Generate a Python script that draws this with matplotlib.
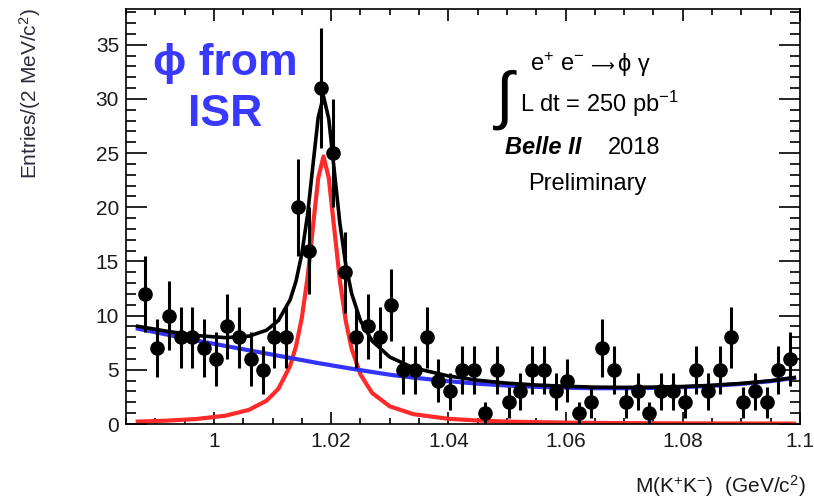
import numpy as np
import matplotlib.pyplot as plt
from matplotlib.ticker import MultipleLocator

plt.rcParams['font.family'] = ['Liberation Sans', 'DejaVu Sans']
plt.rcParams['mathtext.fontset'] = 'custom'
plt.rcParams['mathtext.rm'] = 'Liberation Sans'
plt.rcParams['mathtext.it'] = 'Liberation Sans:italic'
plt.rcParams['mathtext.bf'] = 'Liberation Sans:bold'

# histogram M(K+K-), 2 MeV bins
first_centre = 0.9883
bin_width = 0.002
counts = [12, 7, 10, 8, 8, 7, 6, 9, 8, 6,
          5, 8, 8, 20, 16, 31, 25, 14, 8, 9,
          8, 11, 5, 5, 8, 4, 3, 5, 5, 1,
          5, 2, 3, 5, 5, 3, 4, 1, 2, 7,
          5, 2, 3, 1, 3, 3, 2, 5, 3, 5,
          8, 2, 3, 2, 5, 6]

# fit curves
curve_x = [0.987, 0.992, 0.997, 1.002, 1.006, 1.009, 1.011, 1.013, 1.014, 1.015,
           1.016, 1.017, 1.0178, 1.0187, 1.0196, 1.0205, 1.0215, 1.0225, 1.0235, 1.025,
           1.027, 1.030, 1.034, 1.040, 1.045, 1.050, 1.055, 1.060, 1.065, 1.070,
           1.075, 1.080, 1.085, 1.090, 1.095, 1.099]
signal = [0.22, 0.31, 0.46, 0.77, 1.31, 2.16, 3.25, 5.36, 7.16, 9.8,
          13.6, 18.7, 22.7, 24.7, 22.7, 18.2, 13.2, 9.5, 6.94, 4.57,
          2.86, 1.63, 0.91, 0.48, 0.32, 0.22, 0.17, 0.13, 0.10, 0.08,
          0.07, 0.06, 0.05, 0.045, 0.04, 0.035]
background = [8.8, 8.25, 7.7, 7.2, 6.8, 6.5, 6.3, 6.1, 6.0, 5.9,
              5.8, 5.7, 5.62, 5.54, 5.46, 5.37, 5.28, 5.19, 5.1, 4.97,
              4.8, 4.55, 4.28, 3.95, 3.72, 3.55, 3.43, 3.35, 3.3, 3.3,
              3.33, 3.4, 3.52, 3.7, 3.95, 4.25]

W, H = 814, 501


def px(x, y):
    # пиксели картинки -> координаты фигуры
    return x / W, 1 - y / H


centres = first_centre + bin_width * np.arange(len(counts))
errors = np.sqrt(counts)
total = np.array(signal) + np.array(background)

fig = plt.figure(figsize=(W / 100, H / 100), dpi=100)
ax = fig.add_axes([126 / W, 1 - 424 / H, (800 - 126) / W, (424 - 9) / H])

ax.plot(curve_x, signal, color='#ff2a2a', lw=3, zorder=2)
ax.plot(curve_x, background, color='#3333ff', lw=3, zorder=2)
ax.plot(curve_x, total, color='black', lw=2.6, zorder=3)
ax.errorbar(centres, counts, yerr=errors, fmt='o', color='black', ms=9.5,
            elinewidth=2.2, capsize=0, zorder=4)

ax.set_xlim(0.985, 1.1)
ax.set_ylim(0, 38.3)
ax.set_xticks([1.0, 1.02, 1.04, 1.06, 1.08, 1.1])
ax.set_xticklabels(['1', '1.02', '1.04', '1.06', '1.08', '1.1'])
ax.xaxis.set_minor_locator(MultipleLocator(0.005))
ax.yaxis.set_major_locator(MultipleLocator(5))
ax.yaxis.set_minor_locator(MultipleLocator(1))
ax.tick_params(which='both', direction='in', top=True, right=True,
               labelsize=15, labelcolor='#1a1a1a', width=1.2)
ax.xaxis.set_tick_params(which='major', length=8.5, pad=6)
ax.xaxis.set_tick_params(which='minor', length=4.5)
ax.yaxis.set_tick_params(which='major', length=15, pad=5)
ax.yaxis.set_tick_params(which='minor', length=7)
for sp in ax.spines.values():
    sp.set_linewidth(1.2)

fig.text(*px(30, 8), 'Entries/(2 MeV/c$^{2}$)', rotation=90, ha='center', va='top',
         fontsize=15, color='#2a2a3a')
fig.text(*px(806, 486), 'M(K$^{+}$K$^{-}$)  (GeV/c$^{2}$)', ha='right', va='center',
         fontsize=15, color='#1a1a1a')

fig.text(*px(225, 64), 'ϕ from', ha='center', va='center', fontsize=32,
         fontweight='bold', color='#3838ff')
fig.text(*px(225, 114), 'ISR', ha='center', va='center', fontsize=32,
         fontweight='bold', color='#3838ff')

# первая строка собрана из кусков, стрелка - из DejaVu
fig.text(*px(530, 65), 'e$^{+}$ e$^{-}$', ha='left', va='center', fontsize=17)
fig.text(*px(602, 67), '⟶', ha='center', va='center', fontsize=12,
         family=['DejaVu Sans'])
fig.text(*px(618, 65), 'ϕ γ', ha='left', va='center', fontsize=17)
fig.text(*px(504, 100), '∫', ha='center', va='center', fontsize=46)
fig.text(*px(520, 104), 'L dt = 250 pb$^{-1}$', ha='left', va='center', fontsize=17)
fig.text(*px(505, 148), 'Belle II', ha='left', va='center', fontsize=17,
         fontweight='bold', style='italic')
fig.text(*px(608, 148), '2018', ha='left', va='center', fontsize=17)
fig.text(*px(587, 184), 'Preliminary', ha='center', va='center', fontsize=17)

fig.savefig('out.png', dpi=100)
